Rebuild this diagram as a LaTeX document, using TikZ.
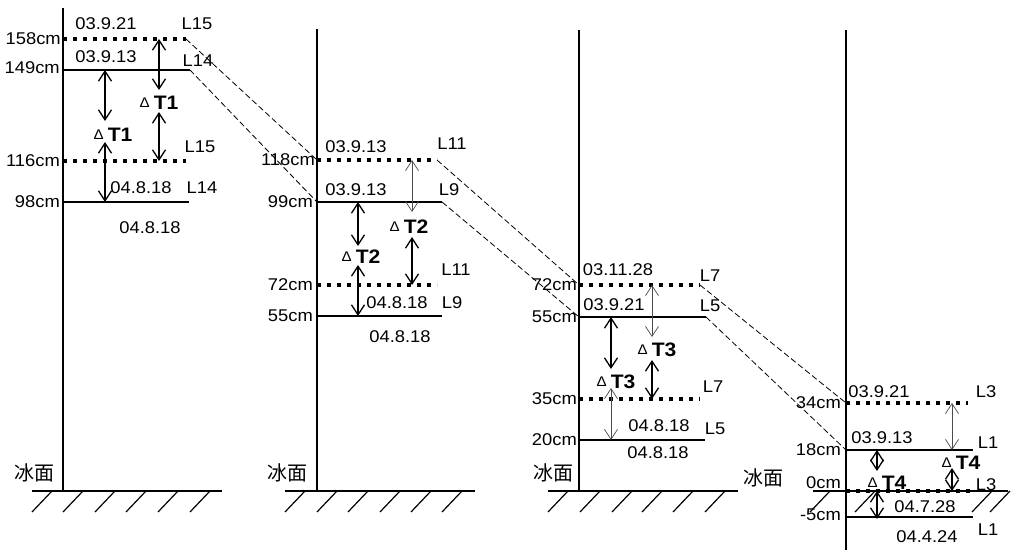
\documentclass[tikz,border=0pt]{standalone}
\usepackage{fontspec}
\setmainfont{Liberation Sans}[FakeStretch=1.08]
\newfontfamily\cjk{Noto Sans CJK SC}
\usetikzlibrary{arrows.meta}
\newcommand{\dT}[1]{{\fontsize{14}{14}\selectfont\mdseries\raisebox{2pt}{Δ}}\hspace{4pt}T#1}
\begin{document}
\begin{tikzpicture}[x=1pt,y=-1pt,
  every node/.style={font=\fontsize{17}{17}\selectfont,inner sep=0pt},
  axis/.style={line width=1.3pt},
  solidlvl/.style={line width=2.6pt},
  dotlvl/.style={line width=3.6pt,dash pattern=on 3.6pt off 6.4pt},
  link/.style={line width=0.8pt,dash pattern=on 6pt off 3pt},
  dim/.style={{Straight Barb[length=10pt,width=13pt]}-{Straight Barb[length=10pt,width=13pt]},line width=1.3pt},
  dimthin/.style={dim,line width=0.7pt,black!70},
  dlabel/.style={font=\fontsize{19.5}{19.5}\selectfont\bfseries},
  ice/.style={font=\cjk\fontsize{20}{20}\selectfont},
  cmlabel/.style={anchor=east},
  ground/.style={line width=1.2pt}]
\useasboundingbox (0,0) rectangle (1020,553);
\coordinate (p1s158) at (63,39);  \coordinate (p1e158) at (186,39);
\coordinate (p1s149) at (63,70);  \coordinate (p1e149) at (190,70);
\coordinate (p1s116) at (63,161); \coordinate (p1e116) at (186,161);
\coordinate (p1s98)  at (63,202); \coordinate (p1e98)  at (189,202);
\coordinate (p2s118) at (317,160); \coordinate (p2e118) at (437,160);
\coordinate (p2s99)  at (317,202); \coordinate (p2e99)  at (442,202);
\coordinate (p2s72)  at (317,285); \coordinate (p2e72)  at (437,285);
\coordinate (p2s55)  at (317,316); \coordinate (p2e55)  at (442,316);
\coordinate (p3s72) at (579,285); \coordinate (p3e72) at (700,285);
\coordinate (p3s55) at (579,317); \coordinate (p3e55) at (706,317);
\coordinate (p3s35) at (579,399); \coordinate (p3e35) at (700,399);
\coordinate (p3s20) at (579,440); \coordinate (p3e20) at (705,440);
\coordinate (p4s34) at (846,403); \coordinate (p4e34) at (968,403);
\coordinate (p4s18) at (846,450); \coordinate (p4e18) at (973,450);
\coordinate (p4s0)  at (846,491); \coordinate (p4e0)  at (970,491);
\coordinate (p4sm5) at (846,517); \coordinate (p4em5) at (973,517);
\draw[axis] (63,8) -- (63,491);
\draw[axis] (317,29) -- (317,491);
\draw[axis] (579,30) -- (579,491);
\draw[axis] (846,30) -- (846,550);
\draw[ground] (32,491) -- (222,491);
\draw[ground] (285,491) -- (475,491);
\draw[ground] (548,491) -- (738,491);
\draw[ground] (813,491) -- (1008,491);
\foreach \x in {32,63,95,126,158,190,285,317,348,380,411,442,548,580,612,642,673,705,810,855,972,990}
  \draw[ground] (\x,512) -- (\x+20,491);
\draw[dotlvl] (p1s158) -- (p1e158);
\draw[solidlvl] (p1s149) -- (p1e149);
\draw[dotlvl] (p1s116) -- (p1e116);
\draw[solidlvl] (p1s98) -- (p1e98);
\draw[dotlvl] (p2s118) -- (p2e118);
\draw[solidlvl] (p2s99) -- (p2e99);
\draw[dotlvl] (p2s72) -- (p2e72);
\draw[solidlvl] (p2s55) -- (p2e55);
\draw[dotlvl] (p3s72) -- (p3e72);
\draw[solidlvl] (p3s55) -- (p3e55);
\draw[dotlvl] (p3s35) -- (p3e35);
\draw[solidlvl] (p3s20) -- (p3e20);
\draw[dotlvl] (p4s34) -- (p4e34);
\draw[solidlvl] (p4s18) -- (p4e18);
\draw[dotlvl] (p4s0) -- (p4e0);
\draw[solidlvl] (p4sm5) -- (p4em5);
\draw[link] (p1e158) -- (p2s118);
\draw[link] (p1e149) -- (p2s99);
\draw[link] (p2e118) -- (p3s72);
\draw[link] (p2e99) -- (p3s55);
\draw[link] (p3e72) -- (p4s34);
\draw[link] (p3e55) -- (p4s18);
\node[cmlabel] (c158) at (61,39) {158cm};
\node[cmlabel] (c149) at (60,68) {149cm};
\node[cmlabel] (c116) at (60,161) {116cm};
\node[cmlabel] (c98) at (60,202) {98cm};
\node (d1a) at (106,24) {03.9.21};
\node (l1a) at (197,24) {L15};
\node (d1b) at (106,57) {03.9.13};
\node (l1b) at (198,61) {L14};
\node (l1c) at (200,147) {L15};
\node (d1c) at (141,188) {04.8.18};
\node (l1d) at (202,188) {L14};
\node (d1d) at (150,228) {04.8.18};
\node[dlabel] (t1a) at (113,135) {\dT1};
\node[dlabel] (t1b) at (159,103) {\dT1};
\draw[dim] (105,70) -- (105,121);
\draw[dim] (105,142) -- (105,202);
\draw[dim] (159,39) -- (159,90);
\draw[dim] (159,112) -- (159,161);
\node[ice] (ice1) at (34,473) {冰面};
\node[cmlabel] (c118) at (315,160) {118cm};
\node[cmlabel] (c99) at (313,202) {99cm};
\node[cmlabel] (c72) at (313,285) {72cm};
\node[cmlabel] (c55) at (313,316) {55cm};
\node (d2a) at (356,147) {03.9.13};
\node (l2a) at (452,144) {L11};
\node (d2b) at (356,190) {03.9.13};
\node (l2b) at (449,190) {L9};
\node (l2c) at (456,270) {L11};
\node (d2c) at (397,303) {04.8.18};
\node (l2d) at (452,303) {L9};
\node (d2d) at (400,337) {04.8.18};
\node[dlabel] (t2a) at (361,257) {\dT2};
\node[dlabel] (t2b) at (409,227) {\dT2};
\draw[dim] (358,202) -- (358,246);
\draw[dim] (358,265) -- (358,316);
\draw[dimthin] (412,160) -- (412,212);
\draw[dim] (412,237) -- (412,285);
\node[ice] (ice2) at (287,473) {冰面};
\node[cmlabel] (c72b) at (577,285) {72cm};
\node[cmlabel] (c55b) at (577,317) {55cm};
\node[cmlabel] (c35) at (577,399) {35cm};
\node[cmlabel] (c20) at (577,440) {20cm};
\node (d3a) at (618,270) {03.11.28};
\node (l3a) at (710,276) {L7};
\node (d3b) at (614,305) {03.9.21};
\node (l3b) at (710,306) {L5};
\node (l3c) at (713,387) {L7};
\node (d3c) at (659,426) {04.8.18};
\node (l3d) at (715,429) {L5};
\node (d3d) at (658,453) {04.8.18};
\node[dlabel] (t3a) at (616,382) {\dT3};
\node[dlabel] (t3b) at (657,350) {\dT3};
\draw[dim] (611,317) -- (611,369);
\draw[dimthin] (611,388) -- (611,440);
\draw[dimthin] (652,285) -- (652,337);
\draw[dim] (652,360) -- (652,399);
\node[ice] (ice3) at (553,473) {冰面};
\node[cmlabel] (c34) at (841,403) {34cm};
\node[cmlabel] (c18) at (841,450) {18cm};
\node[cmlabel] (c0) at (841,483) {0cm};
\node[cmlabel] (cm5) at (841,515) {-5cm};
\node (d4a) at (879,392) {03.9.21};
\node (l4a) at (986,392) {L3};
\node (d4b) at (882,438) {03.9.13};
\node (l4b) at (988,443) {L1};
\node (l4c) at (986,485) {L3};
\node (d4c) at (925,507) {04.7.28};
\node (l4d) at (988,530) {L1};
\node (d4d) at (927,537) {04.4.24};
\node[dlabel] (t4a) at (887,483) {\dT4};
\node[dlabel] (t4b) at (961,463) {\dT4};
\draw[dim] (877,450) -- (877,471);
\draw[dim] (877,491) -- (877,519);
\draw[dimthin] (952,403) -- (952,450);
\draw[dim] (952,468) -- (952,491);
\node[ice] (ice4) at (763,478) {冰面};
\end{tikzpicture}
\end{document}
